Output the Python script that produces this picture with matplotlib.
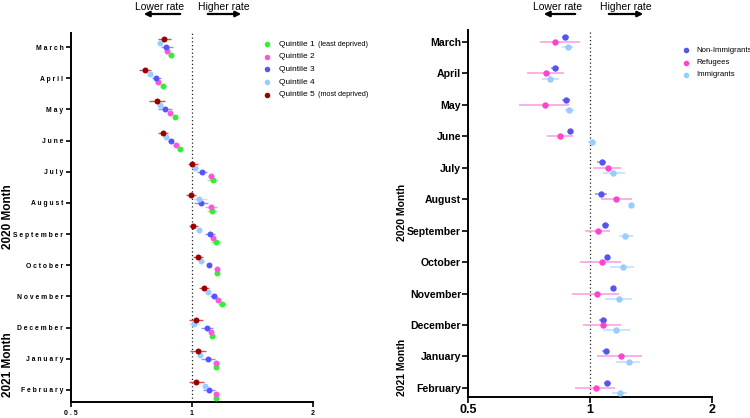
import matplotlib
matplotlib.use("Agg")
import matplotlib.pyplot as plt
from matplotlib.lines import Line2D
import numpy as np

plt.rcParams['font.family'] = ['Liberation Sans', 'DejaVu Sans']

months = ["March", "April", "May", "June", "July", "August", "September",
          "October", "November", "December", "January", "February"]

# Left panel: rate ratios by deprivation quintile
q1 = [.885, .849, .907, .932, 1.126, 1.121, 1.147, 1.154, 1.188, 1.124, 1.147, 1.145]
q1_lo = [.873, .838, .895, .920, 1.092, 1.092, 1.113, 1.140, 1.161, 1.110, 1.133, 1.131]
q1_hi = [.898, .860, .919, .944, 1.156, 1.156, 1.183, 1.168, 1.215, 1.138, 1.161, 1.159]

q2 = [.868, .822, .882, .911, 1.113, 1.113, 1.126, 1.154, 1.161, 1.117, 1.145, 1.147]
q2_lo = [.855, .810, .870, .899, 1.099, 1.075, 1.112, 1.140, 1.147, 1.103, 1.131, 1.133]
q2_hi = [.881, .834, .894, .923, 1.127, 1.156, 1.140, 1.168, 1.175, 1.131, 1.159, 1.161]

q3 = [.860, .812, .858, .885, 1.061, 1.053, 1.107, 1.101, 1.134, 1.088, 1.096, 1.101]
q3_lo = [.836, .794, .825, .873, 1.031, 1.013, 1.075, 1.088, 1.109, 1.051, 1.051, 1.063]
q3_hi = [.895, .838, .894, .897, 1.088, 1.094, 1.143, 1.114, 1.156, 1.126, 1.143, 1.139]

q4 = [.831, .786, .834, .862, 1.020, 1.041, 1.043, 1.055, 1.094, 1.013, 1.049, 1.079]
q4_lo = [.819, .775, .822, .850, 1.005, 1.008, 1.028, 1.040, 1.079, .981, 1.034, 1.064]
q4_hi = [.843, .797, .846, .874, 1.035, 1.088, 1.058, 1.070, 1.109, 1.047, 1.064, 1.094]

q5 = [.852, .765, .817, .846, 1.000, .993, 1.008, 1.033, 1.073, 1.023, 1.035, 1.025]
q5_lo = [.823, .740, .782, .822, .976, .964, .983, 1.006, 1.043, .981, .989, .981]
q5_hi = [.885, .790, .855, .873, 1.033, 1.025, 1.037, 1.063, 1.105, 1.066, 1.083, 1.071]

quintile_labels = ["Quintile 1", "Quintile 2", "Quintile 3", "Quintile 4", "Quintile 5"]
quintile_notes = ["(least deprived)", "", "", "", "(most deprived)"]

# Right panel: rate ratios by immigration status
nonimm = [.869, .819, .872, .892, 1.071, 1.067, 1.091, 1.104, 1.138, 1.079, 1.093, 1.102]
nonimm_lo = [.851, .800, .852, .882, 1.042, 1.031, 1.073, 1.092, 1.126, 1.054, 1.073, 1.081]
nonimm_hi = [.889, .838, .894, .902, 1.098, 1.102, 1.116, 1.116, 1.150, 1.104, 1.116, 1.125]

refugees = [.822, .779, .775, .841, 1.106, 1.162, 1.045, 1.071, 1.041, 1.077, 1.191, 1.035]
refugees_lo = [.752, .699, .668, .783, 1.019, 1.063, .970, .946, .902, .963, 1.039, .920]
refugees_hi = [.945, .861, .886, .906, 1.195, 1.266, 1.123, 1.191, 1.182, 1.195, 1.340, 1.153]

immigrants = [.881, .798, .889, 1.011, 1.142, 1.263, 1.223, 1.205, 1.178, 1.162, 1.247, 1.184]
immigrants_lo = [.852, .762, .866, .990, 1.075, 1.250, 1.178, 1.123, 1.091, 1.075, 1.162, 1.133]
immigrants_hi = [.906, .837, .914, 1.032, 1.219, 1.276, 1.276, 1.285, 1.266, 1.254, 1.332, 1.233]

imm_labels = ["Non-Immigrants", "Refugees", "Immigrants"]

W, H = 750, 418
fig = plt.figure(figsize=(W / 100, H / 100), dpi=100)


def fx(px):
    return px / W


def fy(py):
    return 1 - py / H


def ax_rect(x0, x1, ytop, ybot):
    return [fx(x0), fy(ybot), fx(x1) - fx(x0), fy(ytop) - fy(ybot)]


axL = fig.add_axes(ax_rect(71, 313, 33, 402))
axR = fig.add_axes(ax_rect(468, 712, 30, 397))

ypos = np.arange(len(months))

left_series = [
    (q1, q1_lo, q1_hi, "#33ee33", "#88f588", 2),
    (q2, q2_lo, q2_hi, "#ff55dd", "#ff99ea", 1),
    (q3, q3_lo, q3_hi, "#5555ff", "#8f8fff", 0),
    (q4, q4_lo, q4_hi, "#99ccff", "#c2e0ff", -1),
    (q5, q5_lo, q5_hi, "#990000", "#cc5555", -2),
]
for v, lo, hi, c, ec, off in left_series:
    v = np.array(v); lo = np.array(lo); hi = np.array(hi)
    axL.errorbar(v, ypos + off * 0.128, xerr=[v - lo, hi - v], fmt='o', color=c,
                 ecolor=ec, elinewidth=1, capsize=2, capthick=1, markersize=4.3,
                 markeredgewidth=0, zorder=3)

right_series = [
    (nonimm, nonimm_lo, nonimm_hi, "#5555ee", "#8f8ff5", -1),
    (refugees, refugees_lo, refugees_hi, "#ff44cc", "#ff99e0", 0),
    (immigrants, immigrants_lo, immigrants_hi, "#99ccff", "#bcdcff", 1),
]
for v, lo, hi, c, ec, off in right_series:
    v = np.array(v); lo = np.array(lo); hi = np.array(hi)
    axR.errorbar(v, ypos + off * 0.17, xerr=[v - lo, hi - v], fmt='o', color=c,
                 ecolor=ec, elinewidth=1.1, capsize=2.2, capthick=1.1, markersize=4.6,
                 markeredgewidth=0, zorder=3)

for ax, ylim in ((axL, (11.385, -0.45)), (axR, (11.29, -0.38))):
    ax.set_xscale('log', base=2)
    ax.set_xlim(0.5, 2)
    ax.set_ylim(*ylim)
    ax.axvline(1, color='#222222', lw=0.9, ls=(0, (1, 2)), zorder=1)
    ax.spines['top'].set_visible(False)
    ax.spines['right'].set_visible(False)
    ax.minorticks_off()
    ax.set_xticks([0.5, 1, 2])
    ax.set_yticks(ypos)

# Left axis styling
for s in ('left', 'bottom'):
    axL.spines[s].set_linewidth(1.4)
axL.set_xticklabels(["0 . 5", "1", "2"], fontsize=5, fontweight='bold')
axL.set_yticklabels([" ".join(m) for m in months], fontsize=4.9, fontweight='bold')
axL.tick_params(axis='both', width=1.2, length=3.5, pad=2)

# Right axis styling
for s in ('left', 'bottom'):
    axR.spines[s].set_linewidth(1.4)
axR.set_xticklabels(["0.5", "1", "2"], fontsize=9, fontweight='bold')
axR.set_yticklabels(months, fontsize=7.6, fontweight='bold')
axR.tick_params(axis='both', width=1.2, length=4, pad=1)

# Y-axis group labels
fig.text(fx(8), fy(217), "2020 Month", rotation=90, ha='center', va='center',
         fontsize=8.5, fontweight='bold')
fig.text(fx(8), fy(365), "2021 Month", rotation=90, ha='center', va='center',
         fontsize=8.5, fontweight='bold')
fig.text(fx(402), fy(212), "2020 Month", rotation=90, ha='center', va='center',
         fontsize=7.5, fontweight='bold')
fig.text(fx(402), fy(367), "2021 Month", rotation=90, ha='center', va='center',
         fontsize=7.5, fontweight='bold')

# Header annotations
def header(xl, xh, al0, al1, ah0, ah1):
    fig.text(fx(xl), fy(6.5), "Lower rate", ha='center', va='center', fontsize=7.5)
    fig.text(fx(xh), fy(6.5), "Higher rate", ha='center', va='center', fontsize=7.5)
    fig.add_artist(matplotlib.patches.FancyArrowPatch(
        (fx(al0), fy(14)), (fx(al1), fy(14)), transform=fig.transFigure,
        arrowstyle='-|>', mutation_scale=8, lw=1.6, color='black'))
    fig.add_artist(matplotlib.patches.FancyArrowPatch(
        (fx(ah0), fy(14)), (fx(ah1), fy(14)), transform=fig.transFigure,
        arrowstyle='-|>', mutation_scale=8, lw=1.6, color='black'))


header(160, 224, 183, 141, 205, 244)
header(558, 626, 578, 541, 606, 646)

# Left legend
left_colors = ["#33ee33", "#ff55dd", "#5555ff", "#99ccff", "#990000"]
fig.canvas.draw()
renderer = fig.canvas.get_renderer()
for i, (lab, note, c) in enumerate(zip(quintile_labels, quintile_notes, left_colors)):
    yy = 44 + i * 12.7
    fig.add_artist(Line2D([fx(267)], [fy(yy)], transform=fig.transFigure, marker='o',
                          color=c, markersize=4.0, markeredgewidth=0, ls='none'))
    t = fig.text(fx(279), fy(yy), lab, ha='left', va='center', fontsize=6)
    if note:
        bb = t.get_window_extent(renderer)
        fig.text((bb.x1 + 3) / W, fy(yy), note, ha='left', va='center', fontsize=5.2)

# Right legend
right_colors = ["#5555ee", "#ff44cc", "#99ccff"]
for i, (lab, c) in enumerate(zip(imm_labels, right_colors)):
    yy = 50 + i * 12.5
    fig.add_artist(Line2D([fx(686)], [fy(yy)], transform=fig.transFigure, marker='o',
                          color=c, markersize=4.0, markeredgewidth=0, ls='none'))
    fig.text(fx(696), fy(yy), lab, ha='left', va='center', fontsize=5.6)

fig.savefig("out.png", dpi=100)
